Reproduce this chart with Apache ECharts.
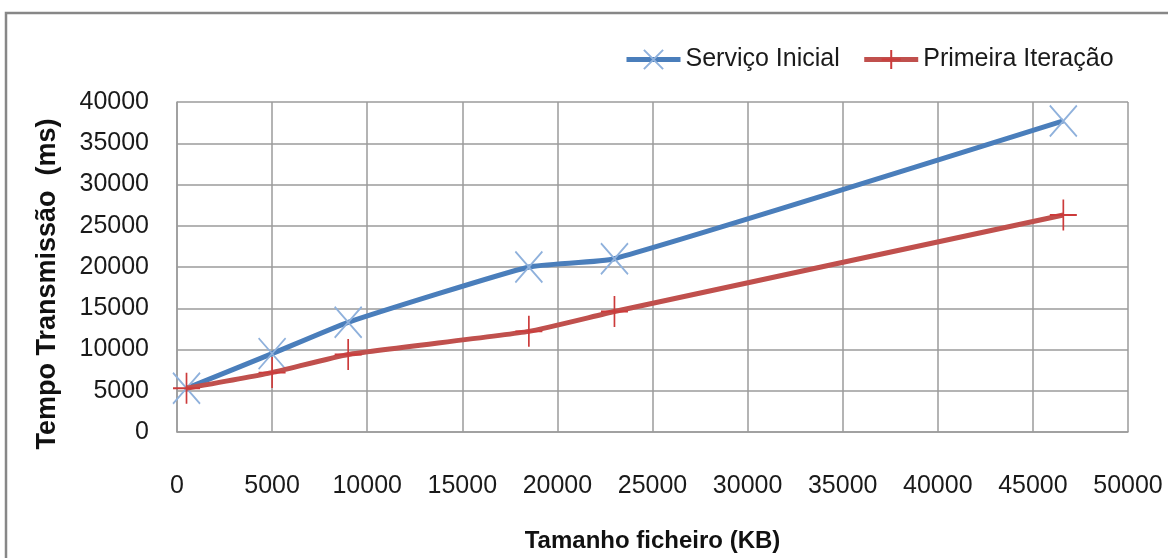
<!DOCTYPE html>
<html>
<head>
<meta charset="utf-8">
<script src="https://cdn.jsdelivr.net/npm/echarts@6/dist/echarts.min.js"></script>
<style>
  html, body { margin: 0; padding: 0; background: #fff; }
  #chart { width: 1168px; height: 558px; }
</style>
</head>
<body>
<div id="chart"></div>
<script>
// File size (KB) for each measured transfer
const fileSizes = [500, 5000, 9000, 18500, 23000, 46600];
// Transmission time (ms) per implementation
const servicoInicial = [5300, 9500, 13300, 20000, 21000, 37700];
const primeiraIteracao = [5300, 7200, 9400, 12200, 14600, 26300];
const seriesNames = ['Serviço Inicial', 'Primeira Iteração'];
const xAxisTitle = 'Tamanho ficheiro (KB)';
const yAxisTitle = 'Tempo Transmissão  (ms)';

const FONT = '"Liberation Sans", Arial, sans-serif';
const GRID_COLOR = '#9b9b9b';

const crossMark = 'path://M0,0L10,10M10,0L0,10';
const plusMark = 'path://M5,0L5,10M0,5L10,5';

const pairs = (xs, ys) => xs.map((x, i) => [x, ys[i]]);
const plainNumber = (v) => String(v);

const chart = echarts.init(document.getElementById('chart'), null, { renderer: 'canvas' });

chart.setOption({
  backgroundColor: '#ffffff',
  animation: false,
  graphic: [{
    type: 'rect',
    silent: true,
    shape: { x: 6, y: 13, width: 1200, height: 620 },
    style: { fill: 'none', stroke: '#878787', lineWidth: 2.5 }
  }],
  legend: {
    left: 624,
    top: 47,
    padding: 0,
    itemWidth: 54,
    itemHeight: 24,
    itemGap: 22,
    lineStyle: { width: 5 },
    textStyle: { fontFamily: FONT, fontSize: 25, color: '#1a1a1a' },
    data: seriesNames
  },
  grid: { left: 177, right: 40, top: 102, bottom: 121, containLabel: false },
  xAxis: {
    type: 'value',
    min: 0,
    max: 50000,
    interval: 5000,
    name: xAxisTitle,
    nameLocation: 'middle',
    nameGap: 97,
    nameTextStyle: { fontFamily: FONT, fontSize: 24, fontWeight: 'bold', color: '#111' },
    axisLine: { show: true, lineStyle: { color: GRID_COLOR, width: 1.5 } },
    axisTick: { show: false },
    axisLabel: { margin: 42, fontFamily: FONT, fontSize: 25, color: '#1a1a1a', formatter: plainNumber },
    splitLine: { show: true, lineStyle: { color: GRID_COLOR, width: 1.5 } }
  },
  yAxis: {
    type: 'value',
    min: 0,
    max: 40000,
    interval: 5000,
    name: yAxisTitle,
    nameLocation: 'middle',
    nameRotate: 90,
    nameGap: 116,
    nameTextStyle: {
      fontFamily: FONT, fontSize: 27, fontWeight: 'bold', color: '#111',
      padding: [0, 34, 0, 0]
    },
    axisLine: { show: true, lineStyle: { color: GRID_COLOR, width: 1.5 } },
    axisTick: { show: false },
    axisLabel: { margin: 28, fontFamily: FONT, fontSize: 25, color: '#1a1a1a', formatter: plainNumber },
    splitLine: { show: true, lineStyle: { color: GRID_COLOR, width: 1.5 } }
  },
  series: [
    {
      name: seriesNames[0],
      type: 'line',
      data: pairs(fileSizes, servicoInicial),
      smooth: 0.15,
      symbol: crossMark,
      symbolSize: [27, 31],
      showAllSymbol: true,
      lineStyle: { color: '#4a7ebb', width: 5 },
      itemStyle: { color: '#4a7ebb', borderColor: '#8fb1dc', borderWidth: 1.8 },
      z: 2
    },
    {
      name: seriesNames[1],
      type: 'line',
      data: pairs(fileSizes, primeiraIteracao),
      smooth: 0.15,
      symbol: plusMark,
      symbolSize: [27, 31],
      showAllSymbol: true,
      lineStyle: { color: '#c0504d', width: 5 },
      itemStyle: { color: '#c0504d', borderColor: '#cc3b3b', borderWidth: 1.8 },
      z: 3
    }
  ]
});
</script>
</body>
</html>
